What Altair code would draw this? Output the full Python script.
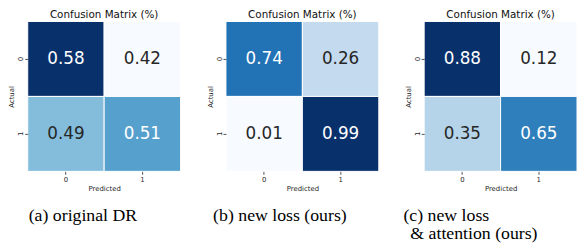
import altair as alt
import pandas as pd

# ---- data ----
actual = ["0", "0", "1", "1"]
predicted = ["0", "1", "0", "1"]
values_a = [0.58, 0.42, 0.49, 0.51]
values_b = [0.74, 0.26, 0.01, 0.99]
values_c = [0.88, 0.12, 0.35, 0.65]
panel_title = "Confusion Matrix (%)"
caption_a = ["(a) original DR"]
caption_b = ["(b) new loss (ours)"]
caption_c = ["(c) new loss", "& attention (ours)"]

# matplotlib "Blues" colormap anchor colours
blues = ["#f7fbff", "#deebf7", "#c6dbef", "#9ecae1", "#6baed6",
         "#4292c6", "#2171b5", "#08519c", "#08306b"]
stops = [i / 8 for i in range(9)]

W, H = 155, 152
CAP_Y = 202
CAP_LINE = 19


def panel(values, caption_lines, cap_x):
    df = pd.DataFrame({"Actual": actual, "Predicted": predicted, "v": values})
    base = (
        alt.Chart(df)
        .transform_joinaggregate(vmin="min(v)", vmax="max(v)")
        .transform_calculate(t="(datum.v - datum.vmin) / (datum.vmax - datum.vmin)")
    )
    x = alt.X("Predicted:N",
              scale=alt.Scale(paddingInner=0, paddingOuter=0),
              axis=alt.Axis(title="Predicted", labelAngle=0))
    y = alt.Y("Actual:N",
              scale=alt.Scale(paddingInner=0, paddingOuter=0),
              axis=alt.Axis(title="Actual", labelAngle=-90))
    rect = base.mark_rect(stroke="white", strokeWidth=1).encode(
        x=x, y=y,
        color=alt.Color("t:Q",
                        scale=alt.Scale(domain=stops, range=blues, interpolate="rgb"),
                        legend=None),
    )
    text = base.mark_text(fontSize=17, font="DejaVu Sans").encode(
        x=x, y=y,
        text=alt.Text("v:Q", format=".2f"),
        color=alt.condition("datum.t > 0.5", alt.value("white"), alt.value("#262626")),
    )
    layers = [rect, text]
    for i, line in enumerate(caption_lines):
        cap = alt.Chart(pd.DataFrame({"caption": [line]})).mark_text(
            font="Liberation Serif", fontSize=18, align="left",
            baseline="alphabetic", color="black",
        ).encode(
            x=alt.value(cap_x[i]),
            y=alt.value(CAP_Y + CAP_LINE * i),
            text="caption:N",
        )
        layers.append(cap)
    return alt.layer(*layers).properties(
        width=W, height=H,
        title=alt.TitleParams(panel_title, fontSize=10.5, font="DejaVu Sans",
                              fontWeight="normal", color="#111111", offset=1),
    )


pa = panel(values_a, caption_a, [1])
pb = panel(values_b, caption_b, [-13])
pc = panel(values_c, caption_c, [-21, -14])

chart = (
    alt.hconcat(pa, pb, pc, spacing=46, bounds="flush")
    .properties(padding=0)
    .configure_view(stroke=None)
    .configure_axis(
        labelFontSize=7, titleFontSize=7,
        labelFont="DejaVu Sans", titleFont="DejaVu Sans",
        titleFontWeight="normal",
        labelColor="#262626", titleColor="#262626",
        tickSize=3, tickWidth=0.8, tickColor="#262626",
        domain=False, grid=False,
        labelPadding=1, titlePadding=2,
    )
)

chart.save("out.html", embed_options={"renderer": "svg", "actions": False})
